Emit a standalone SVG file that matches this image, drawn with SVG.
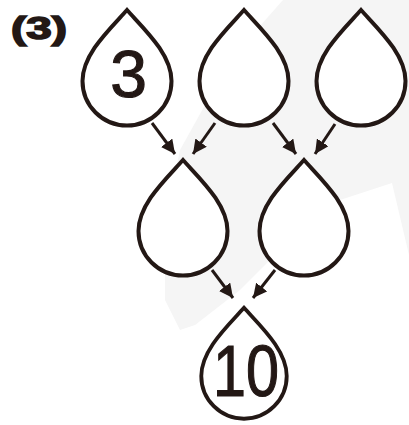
<svg xmlns="http://www.w3.org/2000/svg" width="409" height="425" viewBox="0 0 409 425">
<style>
.drop{fill:#fff;stroke:#231815;stroke-width:4;stroke-linejoin:miter;stroke-miterlimit:10}
.arr{stroke:#231815;stroke-width:3;fill:none}
.num{font-family:"Liberation Sans",Arial,sans-serif;fill:#231815;stroke:#231815;stroke-width:1.2;text-anchor:middle}
</style>
<defs>
<marker id="ah" markerUnits="userSpaceOnUse" markerWidth="16" markerHeight="14" refX="14" refY="7" orient="auto">
<path d="M0,0 L14,7 L0,14 Z" fill="#231815"/>
</marker>
<path id="dropShape" d="M0,-71 C-17,-52 -44.5,-27 -44.5,0 A44.5,44.5 0 0 0 44.5,0 C44.5,-27 17,-52 0,-71 Z"/>
</defs>
<path d="M283,0 L409,0 L409,255 L392,183 L340,200 L290,240 L240,290 L195,325 L180,330 L165,300 L165,220 L180,150 L230,60 Z" fill="#f5f5f5"/>
<text x="39" y="39" font-family="Liberation Sans,Arial,sans-serif" font-weight="bold" font-size="31" fill="#231815" stroke="#231815" stroke-width="1.5" text-anchor="middle" textLength="56" lengthAdjust="spacingAndGlyphs">(3)</text>
<g id="n1"><use href="#dropShape" class="drop" transform="translate(127,81)"/><text class="num" x="128.5" y="97" font-size="66">3</text></g>
<g id="n2"><use href="#dropShape" class="drop" transform="translate(244,81)"/></g>
<g id="n3"><use href="#dropShape" class="drop" transform="translate(361,81)"/></g>
<g id="n4"><use href="#dropShape" class="drop" transform="translate(183,231)"/></g>
<g id="n5"><use href="#dropShape" class="drop" transform="translate(304,231)"/></g>
<g id="n6"><use href="#dropShape" class="drop" transform="translate(244,376) scale(0.96)"/><text class="num" x="246" y="396" font-size="73" textLength="66" lengthAdjust="spacingAndGlyphs">10</text></g>
<g id="connectors">
<line class="arr" x1="152" y1="123" x2="175" y2="154" marker-end="url(#ah)"/>
<line class="arr" x1="215" y1="123" x2="193" y2="154" marker-end="url(#ah)"/>
<line class="arr" x1="273" y1="123" x2="296" y2="154" marker-end="url(#ah)"/>
<line class="arr" x1="335" y1="124" x2="315" y2="154" marker-end="url(#ah)"/>
<line class="arr" x1="212" y1="270" x2="233" y2="298" marker-end="url(#ah)"/>
<line class="arr" x1="275" y1="270" x2="253" y2="298" marker-end="url(#ah)"/>
</g>
</svg>
